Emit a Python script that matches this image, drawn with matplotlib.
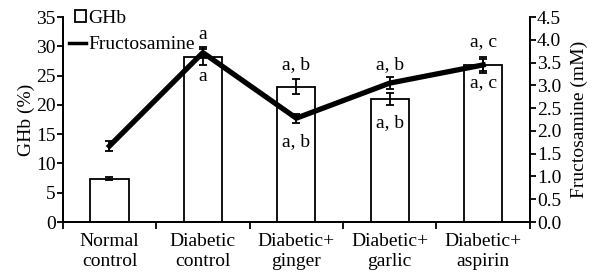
import matplotlib
matplotlib.use('Agg')
import matplotlib.pyplot as plt
from matplotlib.lines import Line2D
from matplotlib.patches import Patch
import numpy as np

plt.rcParams['font.family'] = ['Liberation Serif', 'DejaVu Serif']

groups = ['Normal\ncontrol', 'Diabetic\ncontrol', 'Diabetic+\nginger', 'Diabetic+\ngarlic', 'Diabetic+\naspirin']
ghb = [7.4, 28.2, 23.1, 21.0, 26.8]
ghb_err = [0.3, 1.4, 1.3, 1.0, 1.3]
fruc = [1.67, 3.72, 2.28, 3.05, 3.45]
fruc_err = [0.1, 0.12, 0.1, 0.13, 0.14]
top_labels = ['', 'a', 'a, b', 'a, b', 'a, c']
top_y = [0, 30.6, 25.5, 25.5, 29.3]
bar_labels = ['', 'a', 'a, b', 'a, b', 'a, c']
inside_y = [0, 23.4, 12.3, 15.6, 22.4]

x = np.arange(len(groups))

fig = plt.figure(figsize=(5.92, 2.8), dpi=100)
ax = fig.add_axes([0.106, 0.207, 0.789, 0.732])
ax2 = ax.twinx()

ax.bar(x, ghb, width=0.41, yerr=ghb_err, color='white', edgecolor='black',
       linewidth=1.3, capsize=3, error_kw={'elinewidth': 1.3, 'capthick': 1.3},
       zorder=2)
ax2.errorbar(x, fruc, yerr=fruc_err, color='black', lw=3.8, capsize=3,
             elinewidth=1.3, capthick=1.3, zorder=3)

ax.set_xlim(-0.5, 4.5)
ax.set_ylim(0, 35)
ax2.set_ylim(0, 4.5)
ax.set_yticks(np.arange(0, 36, 5))
ax2.set_yticks(np.arange(0, 4.51, 0.5))
ax2.set_yticklabels(['%.1f' % v for v in np.arange(0, 4.51, 0.5)])

ax.set_xticks(x)
ax.set_xticklabels(groups, fontsize=14, linespacing=1.2)
ax.tick_params(axis='x', which='major', length=0, pad=8)
ax.set_xticks(np.arange(-0.5, 4.6, 1), minor=True)
ax.tick_params(axis='x', which='minor', length=5, width=1.3, direction='out')
ax.tick_params(axis='y', length=4, width=1.3, labelsize=14, pad=1)
ax2.tick_params(axis='y', length=4, width=1.3, labelsize=14, pad=1)

for a in (ax, ax2):
    a.spines['top'].set_visible(False)
    for s in ('left', 'right', 'bottom'):
        a.spines[s].set_linewidth(1.3)

ax.set_ylabel('GHb (%)', fontsize=14, labelpad=1)
ax2.set_ylabel('Fructosamine (mM)', fontsize=14, labelpad=7)

# significance letters above error bars and inside bars
for i in range(len(groups)):
    if top_labels[i]:
        ax.text(x[i], top_y[i], top_labels[i], ha='center', va='bottom', fontsize=14)
    if bar_labels[i]:
        ax.text(x[i], inside_y[i], bar_labels[i], ha='center', va='bottom', fontsize=14)

handles = [Patch(facecolor='white', edgecolor='black', linewidth=1.3),
           Line2D([], [], color='black', lw=2.5)]
leg = ax.legend(handles, ['GHb', 'Fructosamine'], loc='upper left',
                bbox_to_anchor=(0.005, 1.055), frameon=False, fontsize=14,
                handlelength=0.85, handleheight=0.6, handletextpad=0.15,
                labelspacing=0.5, borderaxespad=0.0, borderpad=0.2)
leg.legend_handles[0].set_width(8)
leg.legend_handles[0].set_x(4)

fig.savefig('out.png', dpi=100)
